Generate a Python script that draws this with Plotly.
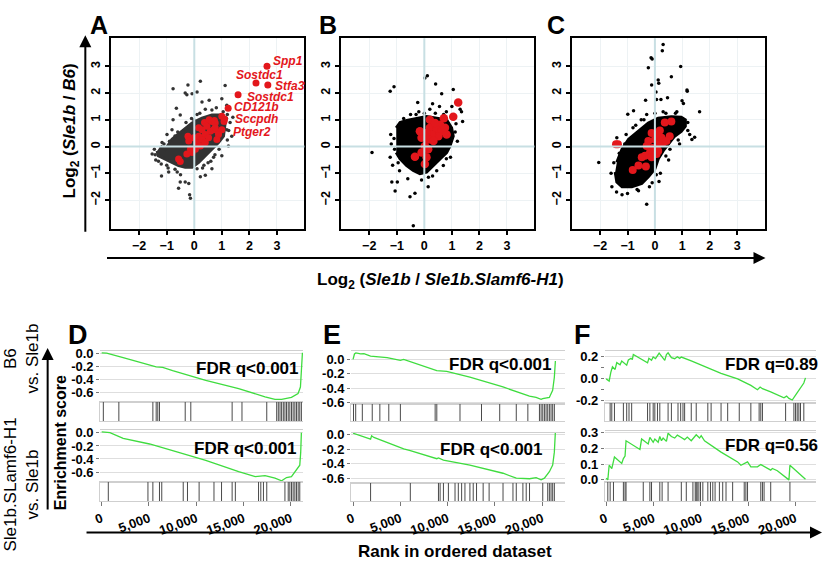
import plotly.graph_objects as go

W, H = 825, 564
FONT = "Liberation Sans, Arial, Helvetica, sans-serif"
RED = "#e3171c"
GREEN = "#3fdc3f"

# ---------------- Scatter panels (A, B, C) ----------------
# dense core outline of each gene cloud
a_core_x = [-1.23, -1.05, -0.81, -0.45, -0.08, 0.28, 0.64, 0.94, 1.12, 1.12, 1.06, 0.88, 0.64, 0.40, 0.16, -0.08, -0.33, -0.57, -0.81, -1.11, -1.31, -1.35]
a_core_y = [0.02, -0.10, 0.27, 0.57, 0.88, 1.06, 1.18, 1.18, 1.00, 0.88, 0.39, 0.15, -0.10, -0.34, -0.59, -0.77, -0.77, -0.71, -0.59, -0.46, -0.34, -0.16]
a_out_x = [-0.77, -0.23, 0.22, -0.08, 0.10, -0.33, -0.27, -0.65, -0.51, -0.77, 0.28, 0.54, 1.12, 1.00, 1.18, 0.64, -0.81, -0.99, -1.17, -1.53, -1.19, -0.93, -0.51, -0.20, -0.33, -0.17, -0.14, -0.57, 0.40, 0.64, 1.00, 1.24, 1.36, 1.18, 0.76, 0.22, 0.10,
           -1.40, -1.00, 0.60, 0.90, 1.25, 1.30, 0.10, -0.30, -0.60, -1.20, -0.70, 0.30, 1.05, 1.40, 0.40, -0.10, -0.90, -1.45, 0.80, 1.20,
           -1.42, -1.30, -0.95, -0.62, -0.40, -0.02, 0.20, 0.50, 0.75, 1.20, 1.17, 1.05, -0.70, -0.20, 0.35, 0.70, -1.10, -0.50]
a_out_y = [2.16, 2.30, 2.44, 1.98, 2.04, 2.00, 1.94, 1.43, 1.18, 1.00, 1.67, 1.73, 2.28, 1.79, 1.55, 1.37, 0.63, 0.45, 0.15, -0.28, -1.10, -0.95, -1.32, -1.38, -1.32, -1.80, -1.93, -1.56, -1.07, -0.83, -0.34, 0.02, 0.39, 0.63, 0.45, -1.13, -0.83,
           -0.50, -0.70, -0.55, -0.10, 0.60, 0.90, 1.20, 0.90, 0.55, -0.65, -0.85, -0.80, 1.30, 1.10, 1.40, 1.05, 0.20, -0.10, 1.45, 1.20,
           -0.30, -0.55, -0.80, -0.95, 0.55, 1.00, 1.25, -0.60, -0.30, 0.25, 1.05, 0.75, 0.40, 0.75, -0.70, -0.40, 0.10, -1.05]
a_red_x = [0.37, 0.54, 0.64, 0.73, 0.76, 0.46, 0.28, 0.58, 0.70, 0.88, 0.40, 0.16, -0.02, -0.23, -0.20, 0.10, 0.28, 0.52, 0.04, -0.08, -0.27, -0.14, 0.22, 0.76, 1.00, 1.08, 0.88, -0.51, -0.57, 0.40, 0.82, 0.16,
           2.64, 2.24, 2.67, 1.59, 1.23, 1.00, 1.10]
a_red_y = [0.90, 1.00, 0.94, 0.98, 0.88, 0.76, 0.63, 0.57, 0.63, 0.54, 0.45, 0.39, 0.33, 0.39, 0.21, 0.15, 0.27, 0.33, -0.10, -0.22, -0.28, -0.10, 0.02, 0.70, 0.63, 0.94, 0.45, -0.56, -0.46, 0.15, 0.27, 0.70,
           3.00, 2.38, 2.30, 1.94, 1.43, 1.13, 1.03]
a_gene_labels = ["Spp1", "Sostdc1", "Stfa3", "Sostdc1", "CD121b", "Sccpdh", "Ptger2"]
a_gene_x = [2.77, 1.46, 2.85, 1.84, 1.36, 1.40, 1.34]
a_gene_y = [3.20, 2.67, 2.28, 1.86, 1.47, 1.03, 0.54]

b_core_x = [-1.02, -0.88, -0.64, -0.28, 0.08, 0.45, 0.81, 0.99, 1.05, 0.93, 0.81, 0.57, 0.33, 0.08, -0.16, -0.40, -0.64, -0.88, -1.02]
b_core_y = [0.70, 0.90, 0.98, 1.06, 1.12, 1.06, 1.00, 0.70, 0.39, 0.02, -0.22, -0.46, -0.71, -0.95, -1.01, -0.89, -0.71, -0.46, -0.22]
b_out_x = [-1.90, -1.24, -1.10, 0.11, 0.02, 0.41, 1.05, -0.24, 0.63, 1.30, 1.35, 1.39, -0.40, -0.52, -1.18, -0.98, -1.06, -0.34, 0.14, 0.69, -1.24, -1.22, -0.70, 0.30, 0.55, 0.80, -0.50, -0.20, 0.20, -0.90, -0.60, -0.10, 0.30, 0.60, 1.20, -1.20, -1.15, 0.95, 1.00,
           -1.10, -1.08, -0.95, -0.30, 0.00, 0.15, 0.45, 0.80, 1.12, 1.15, 0.70, 0.40, -0.75]
b_out_y = [-0.22, 2.07, 2.24, 2.65, 2.56, 2.34, 2.13, 1.65, 1.98, 1.40, 1.30, 0.94, -2.96, -1.87, -1.32, -1.32, -1.66, -1.74, -1.50, -0.71, -0.40, 0.45, 0.94, 1.60, 1.50, 1.30, 1.20, 1.30, 1.40, -0.90, -1.20, -1.25, -1.10, -0.30, 0.20, 0.10, -0.70, -0.40, 1.50,
           0.30, -0.10, -0.60, 1.20, 1.25, -1.15, -0.90, -0.45, 0.55, 0.85, 1.20, 1.25, 1.05]
b_red_x = [1.23, 1.05, 0.71, 0.57, 0.33, 0.20, 0.45, 0.63, 0.81, 0.75, 0.51, 0.27, 0.08, 0.14, 0.33, -0.10, -0.16, 0.02, 0.14, -0.10, 0.08, 0.02, -0.34, 0.20, 0.39]
b_red_y = [1.65, 1.12, 1.06, 0.82, 0.82, 0.70, 0.63, 0.57, 0.45, 0.70, 0.39, 0.45, 0.51, 0.27, 0.21, 0.33, 0.57, 0.02, -0.10, -0.22, -0.40, -0.65, -0.38, 1.00, 0.88]

c_core_x = [-1.39, -1.20, -0.96, -0.60, -0.24, 0.12, 0.60, 0.96, 1.11, 1.11, 0.96, 0.72, 0.54, 0.30, 0.12, 0.00, -0.24, -0.48, -0.84, -1.20, -1.39, -1.45]
c_core_y = [-0.59, -0.10, 0.27, 0.57, 0.88, 1.06, 1.12, 1.10, 1.00, 0.76, 0.57, 0.39, 0.15, -0.16, -0.46, -0.83, -1.13, -1.38, -1.50, -1.50, -1.32, -0.95]
c_out_x = [0.30, 0.27, -0.14, -0.10, -0.24, 0.94, 0.60, 0.12, 0.14, -0.12, 1.17, 1.18, 0.04, -0.34, 0.06, 0.22, 0.46, 0.99, 1.04, 1.63, 1.45, 1.35, 1.27, -0.99, -0.78, -2.05, -1.57, -1.20, -0.30, -1.39,
           -0.50, -0.30, 0.30, 0.80, -1.10, -1.50, -1.60, -1.40, -1.00, -0.60, 0.20, 0.50, 0.90, 1.20, -0.80, -1.25, 0.55, 0.15, -0.20,
           -1.30, -1.05, -0.70, -0.40, 0.00, 0.40, 0.75, 1.20, 0.85, 0.40, 0.05, -0.10, -0.65]
c_out_y = [3.82, 3.58, 3.32, 3.27, 2.95, 2.99, 2.61, 2.49, 2.37, 2.30, 2.12, 2.07, 2.04, 1.73, 1.76, 1.76, 1.83, 1.71, 1.61, 1.30, 0.35, 0.27, 0.45, 1.21, 1.34, -0.59, -1.50, -1.80, -2.15, 0.33,
           1.00, 1.20, 1.30, 1.30, 0.10, -0.60, -1.00, -1.70, -1.75, -1.65, -1.00, -0.50, 0.10, 0.90, 0.70, -0.30, -0.10, -1.30, -1.50,
           -0.25, 0.45, 0.80, 1.00, 1.25, 1.25, 1.25, 0.60, 0.25, -0.35, -1.05, -1.35, -1.60]
c_red_x = [-1.42, -1.35, 0.36, 0.60, -0.12, 0.18, 0.54, -0.24, 0.00, 0.24, -0.30, -0.06, 0.12, -0.18, 0.06, -0.36, -0.12, -0.48, -0.33, -0.60, -0.81, 0.12, 0.30, 0.42, 0.06]
c_red_y = [0.09, 0.09, 0.90, 0.94, 0.51, 0.60, 0.39, 0.21, 0.27, 0.33, 0.02, -0.04, 0.09, -0.22, -0.28, -0.34, -0.40, -0.40, -0.74, -0.71, -0.87, -0.16, 0.15, 0.21, 0.45]

scatter_ticks = [-2, -1, 0, 1, 2, 3]

# ---------------- GSEA panels (D, E, F) ----------------
d1_rank = [0, 520, 2270, 4010, 5760, 6450, 7500, 11000, 14480, 17270, 18320, 19020, 20060, 20760, 21010, 21110, 21220]
d1_es = [0.015, 0.01, -0.06, -0.135, -0.20, -0.21, -0.26, -0.41, -0.535, -0.66, -0.70, -0.70, -0.67, -0.61, -0.51, -0.26, 0.015]
d2_rank = [0, 870, 2270, 5060, 7500, 11000, 14480, 16230, 17270, 18320, 19020, 19540, 20060, 20410, 20690, 20940, 21040, 21110]
d2_es = [0.015, 0.005, -0.085, -0.17, -0.27, -0.42, -0.595, -0.67, -0.655, -0.695, -0.735, -0.685, -0.67, -0.595, -0.545, -0.495, -0.295, 0.005]
e1_rank = [0, 150, 300, 800, 1150, 1850, 3600, 5000, 5350, 8850, 9900, 12350, 15850, 18650, 19350, 19880, 20050, 20750, 21100, 21280, 21390]
e1_es = [0.0, 0.075, 0.09, 0.075, 0.08, 0.045, 0.023, -0.013, 0.0, -0.157, -0.167, -0.248, -0.383, -0.51, -0.528, -0.555, -0.546, -0.528, -0.429, -0.248, -0.022]
e2_rank = [0, 1855, 1960, 2205, 5355, 6055, 8855, 9030, 9555, 12355, 15855, 17255, 18655, 19355, 19880, 20230, 20755, 21105, 21280, 21385]
e2_es = [0.013, -0.066, -0.022, -0.044, -0.197, -0.22, -0.33, -0.32, -0.35, -0.417, -0.526, -0.592, -0.60, -0.584, -0.614, -0.592, -0.505, -0.417, -0.242, 0.02]
f1_rank = [0, 315, 490, 665, 945, 1120, 1470, 1645, 2170, 2345, 2625, 2765, 2870, 4375, 4515, 4795, 4970, 5215, 5425, 5600, 6195, 6370, 6545, 6895, 7245, 7525, 7770, 7945, 8995, 10395, 12145, 13895, 15295, 15995, 16275, 16520, 17395, 18795, 19075, 19320, 19670, 20020, 20265, 20545, 20895, 21070]
f1_es = [-0.008, -0.028, 0.052, 0.102, 0.078, 0.140, 0.120, 0.155, 0.117, 0.164, 0.179, 0.167, 0.214, 0.138, 0.179, 0.161, 0.191, 0.176, 0.203, 0.226, 0.161, 0.214, 0.229, 0.185, 0.176, 0.194, 0.179, 0.191, 0.155, 0.102, 0.043, -0.008, -0.067, -0.106, -0.082, -0.097, -0.126, -0.18, -0.165, -0.186, -0.20, -0.156, -0.126, -0.082, -0.046, 0.001]
f2_rank = [0, 175, 315, 595, 875, 1645, 1820, 1995, 2100, 3570, 3745, 4445, 4620, 4970, 5145, 5495, 5670, 5845, 6020, 6370, 6545, 6895, 7245, 7525, 7945, 8295, 8575, 8995, 9520, 9870, 10045, 10395, 12145, 13895, 14245, 14945, 15295, 15995, 16345, 17395, 17570, 18095, 19320, 19425, 21070]
f2_es = [0.010, 0.0, 0.093, 0.072, 0.145, 0.104, 0.135, 0.151, 0.248, 0.193, 0.259, 0.228, 0.269, 0.238, 0.259, 0.238, 0.275, 0.248, 0.265, 0.244, 0.296, 0.275, 0.265, 0.284, 0.269, 0.255, 0.271, 0.248, 0.286, 0.265, 0.280, 0.248, 0.176, 0.114, 0.093, 0.114, 0.083, 0.083, 0.097, 0.062, 0.072, 0.058, 0.0, 0.093, 0.004]

d1_hits = [175, 1815, 5410, 5760, 5930, 6110, 8830, 9420, 13790, 14830, 17450, 18500, 18670, 18850, 19020, 19200, 19370, 19540, 19720, 19890, 20070, 20240, 20420, 20590, 20770, 20940, 21110]
d2_hits = [700, 4890, 5410, 6110, 6350, 8620, 9070, 10300, 11870, 12670, 13790, 14130, 16580, 16820, 17100, 17450, 19370, 19720, 19890, 20070, 20240, 20420, 20590, 20770, 20940]
e1_hits = [50, 280, 980, 2030, 2835, 3780, 5005, 8680, 8855, 11305, 13580, 15505, 17255, 18480, 19705, 19880, 20055, 20230, 20405, 20580, 20755, 20930, 21105, 21280]
e2_hits = [1855, 6055, 9030, 9205, 9555, 10080, 10780, 11130, 11480, 11830, 12355, 12705, 13055, 13755, 14385, 15855, 16905, 17255, 17955, 18305, 18655, 20055, 20580, 20755, 20930, 21105, 21280]
f1_hits = [420, 595, 875, 1820, 2170, 2415, 2695, 4375, 4620, 4970, 5145, 5425, 5670, 6545, 6895, 7595, 7875, 8120, 8295, 8995, 9520, 10745, 11095, 12145, 12845, 14070, 15295, 16170, 16345, 16520, 18970, 19845, 20020, 20195, 20370, 20545, 20895]
f2_hits = [175, 420, 770, 1820, 1995, 2100, 3920, 4620, 4795, 5670, 5915, 6545, 7945, 8470, 9170, 9415, 9520, 9625, 9800, 9975, 10220, 10745, 11025, 11270, 11515, 11970, 12320, 12670, 13370, 14595, 14770, 14945, 16345, 16520, 16695, 17395, 19425]

fdr_labels = ["FDR q<0.001", "FDR q<0.001", "FDR q<0.001", "FDR q<0.001", "FDR q=0.89", "FDR q=0.56"]
rank_tickvals = [0, 5000, 10000, 15000, 20000]
rank_ticktext = ["0", "5,000", "10,000", "15,000", "20,000"]


def xd(x0, x1):
    return [x0 / W, x1 / W]


def yd(y0, y1):
    return [1 - y1 / H, 1 - y0 / H]


fig = go.Figure()
layout = dict(
    width=W, height=H, margin=dict(l=0, r=0, t=0, b=0),
    paper_bgcolor="white", plot_bgcolor="white", showlegend=False,
    font=dict(family=FONT, color="black"),
)

# ---- scatter panels ----
scat = [
    ("x", "y", "xaxis", "yaxis", 105, 300, a_core_x, a_core_y, a_out_x, a_out_y, a_red_x, a_red_y, "#333333", 7),
    ("x2", "y2", "xaxis2", "yaxis2", 337, 532, b_core_x, b_core_y, b_out_x, b_out_y, b_red_x, b_red_y, "#000000", 8.5),
    ("x3", "y3", "xaxis3", "yaxis3", 570, 764, c_core_x, c_core_y, c_out_x, c_out_y, c_red_x, c_red_y, "#000000", 8),
]
shapes = []
for xr, yr, xk, yk, px0, px1, cx, cy, ox, oy, rx, ry, col, rs in scat:
    fig.add_trace(go.Scatter(x=cx, y=cy, xaxis=xr, yaxis=yr, mode="lines", fill="toself",
                             fillcolor=col, line=dict(color=col, width=3), hoverinfo="skip"))
    fig.add_trace(go.Scatter(x=ox, y=oy, xaxis=xr, yaxis=yr, mode="markers",
                             marker=dict(color=col, size=3.5), hoverinfo="skip"))
    fig.add_trace(go.Scatter(x=rx, y=ry, xaxis=xr, yaxis=yr, mode="markers",
                             marker=dict(color=RED, size=rs), hoverinfo="skip"))
    layout[xk] = dict(domain=xd(px0, px1), anchor=yr, range=[-3.02, 4.0], tickvals=scatter_ticks,
                      showline=True, linecolor="black", linewidth=2, mirror=True,
                      ticks="outside", ticklen=4, tickwidth=1.5, tickcolor="black",
                      showgrid=True, gridcolor="#edf2f4", zeroline=False,
                      tickfont=dict(size=12.5, weight="bold", family=FONT, color="black"))
    layout[yk] = dict(domain=yd(33, 228), anchor=xr, range=[-3.07, 4.05], tickvals=scatter_ticks,
                      showline=True, linecolor="black", linewidth=2, mirror=True,
                      ticks="outside", ticklen=4, tickwidth=1.5, tickcolor="black", tickangle=-90,
                      showgrid=True, gridcolor="#edf2f4", zeroline=False,
                      tickfont=dict(size=12.5, weight="bold", family=FONT, color="black"))
    shapes.append(dict(type="line", xref=xr, yref=yr + " domain", x0=0, x1=0, y0=0, y1=1,
                       line=dict(color="#c8dfe3", width=2), layer="above"))
    shapes.append(dict(type="line", xref=xr + " domain", yref=yr, x0=0, x1=1, y0=0, y1=0,
                       line=dict(color="#c8dfe3", width=2), layer="above"))

annotations = []
for lab, gx, gy in zip(a_gene_labels, a_gene_x, a_gene_y):
    annotations.append(dict(text="<b><i>" + lab + "</i></b>", x=gx, y=gy, xref="x", yref="y",
                            xanchor="left", yanchor="middle", showarrow=False,
                            font=dict(size=12, color=RED, family=FONT)))

# ---- GSEA panels ----
gsea = [
    (d1_rank, d1_es, d1_hits, 94, 299, 353, 405, 425, [-0.735, 0.045], [-157, 21330], [0, -0.2, -0.4, -0.6], ["0.0", "-0.2", "-0.4", "-0.6"], False),
    (d2_rank, d2_es, d2_hits, 94, 299, 434, 487, 507, [-0.75, 0.045], [-157, 21330], [0, -0.2, -0.4, -0.6], ["0.0", "-0.2", "-0.4", "-0.6"], True),
    (e1_rank, e1_es, e1_hits, 347, 563, 353, 407, 425, [-0.614, 0.118], [-210, 22430], [0, -0.2, -0.4, -0.6], ["0.0", "-0.2", "-0.4", "-0.6"], False),
    (e2_rank, e2_es, e2_hits, 347, 563, 437, 488, 507, [-0.654, 0.017], [-210, 22430], [0, -0.2, -0.4, -0.6], ["0.0", "-0.2", "-0.4", "-0.6"], True),
    (f1_rank, f1_es, f1_hits, 603, 816, 353, 406, 425, [-0.224, 0.247], [-136, 22190], [0.2, 0.0, -0.2], ["0.2", "0.0", "-0.2"], False),
    (f2_rank, f2_es, f2_hits, 603, 816, 435, 487, 507, [-0.012, 0.31], [-136, 22190], [0.3, 0.2, 0.1, 0.0], ["0.3", "0.2", "0.1", "0.0"], True),
]
tickfont_b = dict(size=13, weight="bold", family=FONT, color="black")
for i, (rk, es, hits, px0, px1, ey0, ey1, by1, yrng, xrng, tv, tt, bottom) in enumerate(gsea):
    n_es = 4 + i
    n_bar = 10 + i
    xr, yr = "x%d" % n_es, "y%d" % n_es
    xb, yb = "x%d" % n_bar, "y%d" % n_bar
    fig.add_trace(go.Scatter(x=rk, y=es, xaxis=xr, yaxis=yr, mode="lines",
                             line=dict(color=GREEN, width=1.3), hoverinfo="skip"))
    bx, by = [], []
    for h in hits:
        bx += [h, h, None]
        by += [0, 1, None]
    fig.add_trace(go.Scatter(x=bx, y=by, xaxis=xb, yaxis=yb, mode="lines",
                             line=dict(color="#4a4a4a", width=1), hoverinfo="skip"))
    layout["xaxis%d" % n_es] = dict(domain=xd(px0, px1), anchor=yr, range=xrng, showticklabels=False,
                                   ticks="", showgrid=False, zeroline=False, showline=True,
                                   mirror=True, linecolor="#cfcfcf", linewidth=1)
    ydict = dict(domain=yd(ey0, ey1), anchor=xr, range=yrng, tickvals=tv, ticktext=tt,
                 ticks="outside", ticklen=3, tickcolor="#777", showgrid=True, gridcolor="#dedede",
                 zeroline=False, showline=False, tickfont=tickfont_b)
    if i == 4:
        ydict["minor"] = dict(tickvals=[0.1, -0.1], ticks="outside", ticklen=3, tickcolor="#777", showgrid=False)
    layout["yaxis%d" % n_es] = ydict
    xbd = dict(domain=xd(px0, px1), anchor=yb, range=xrng, showgrid=False, zeroline=False,
               showline=True, mirror=True, linecolor="#cfcfcf", linewidth=1)
    if bottom:
        xbd.update(tickvals=rank_tickvals, ticktext=rank_ticktext, ticks="outside", ticklen=4,
                   tickcolor="#777", tickangle=-20, tickfont=tickfont_b)
    else:
        xbd.update(showticklabels=False, ticks="")
    layout["xaxis%d" % n_bar] = xbd
    layout["yaxis%d" % n_bar] = dict(domain=yd(ey1, by1), anchor=xb, range=[0, 1], showticklabels=False,
                                    ticks="", showgrid=False, zeroline=False, showline=True,
                                    linecolor="#cfcfcf", linewidth=1)

# FDR labels
fdr_pos = [(297, 371), (295, 453), (552, 367), (543, 454), (820, 367), (820, 450)]
for lab, (fx, fy) in zip(fdr_labels, fdr_pos):
    annotations.append(dict(text="<b>" + lab + "</b>", x=fx / W, y=1 - fy / H, xref="paper", yref="paper",
                            xanchor="right", yanchor="middle", showarrow=False,
                            font=dict(size=17, color="black", family=FONT)))

# Panel letters
for lab, lx, ly, fs in [("A", 93, 19, 25), ("B", 324, 19, 25), ("C", 554, 19, 25),
                        ("D", 72, 337, 27), ("E", 328, 337, 27), ("F", 580, 337, 27)]:
    annotations.append(dict(text="<b>" + lab + "</b>", x=lx / W, y=1 - ly / H, xref="paper", yref="paper",
                            xanchor="center", yanchor="middle", showarrow=False,
                            font=dict(size=fs, color="black", family=FONT)))

# Axis titles
annotations.append(dict(text="<b>Log<sub>2</sub> (<i>Sle1b</i> / <i>Sle1b.Slamf6-H1</i>)</b>",
                        x=437 / W, y=1 - 281 / H, xref="paper", yref="paper", showarrow=False,
                        xanchor="center", yanchor="middle", font=dict(size=17, family=FONT)))
annotations.append(dict(text="<b>Log<sub>2</sub> (<i>Sle1b</i> / <i>B6</i>)</b>",
                        x=65 / W, y=1 - 128 / H, xref="paper", yref="paper", showarrow=False,
                        textangle=-90, xanchor="center", yanchor="middle", font=dict(size=17, family=FONT)))
annotations.append(dict(text="<b>Rank in ordered dataset</b>", x=452 / W, y=1 - 558 / H, xref="paper",
                        yref="paper", showarrow=False, xanchor="center", yanchor="middle",
                        font=dict(size=17, family=FONT)))
annotations.append(dict(text="<b>Enrichment score</b>", x=54 / W, y=1 - 447 / H, xref="paper",
                        yref="paper", showarrow=False, textangle=-90, xanchor="center", yanchor="middle",
                        font=dict(size=16, family=FONT)))
annotations.append(dict(text="B6<br>vs. Sle1b", x=15 / W, y=1 - 361 / H, xref="paper", yref="paper",
                        showarrow=False, textangle=-90, align="center", xanchor="center", yanchor="middle",
                        font=dict(size=17, family=FONT)))
annotations.append(dict(text="Sle1b.SLamf6-H1<br>vs. Sle1b", x=15 / W, y=1 - 490 / H, xref="paper",
                        yref="paper", showarrow=False, textangle=-90, align="center", xanchor="center",
                        yanchor="middle", font=dict(size=17, family=FONT)))

# Arrows
for hx, hy, tx, ty in [(765, 258, 105, 258), (79, 30, 79, 228), (41, 350, 41, 513), (822, 539, 85, 539)]:
    annotations.append(dict(text="", x=hx / W, y=1 - hy / H, xref="paper", yref="paper",
                            ax=tx - hx, ay=ty - hy, axref="pixel", ayref="pixel", showarrow=True,
                            arrowhead=2, arrowsize=1.2, arrowwidth=2, arrowcolor="black", standoff=0))

layout["annotations"] = annotations
layout["shapes"] = shapes
fig.update_layout(**layout)
fig.write_html("out.html", config={"displayModeBar": False},
               post_script="document.body.style.margin='0';")
